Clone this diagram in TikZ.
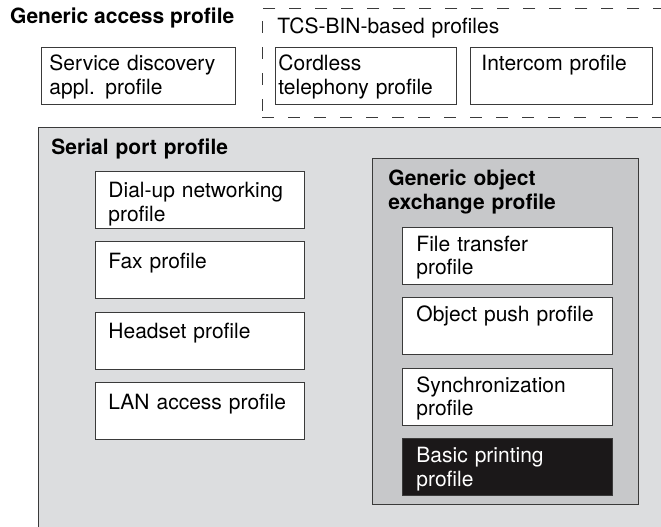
\documentclass[tikz,border=0pt]{standalone}
\usepackage{fontspec}
\setmainfont{TeX Gyre Heros}
\usetikzlibrary{positioning}
\definecolor{outerGray}{HTML}{DCDDDF}
\definecolor{innerGray}{HTML}{C7C8CA}
\definecolor{frameLine}{HTML}{3A3A3A}
\definecolor{inkBlack}{HTML}{1B1819}

\begin{document}
\begin{tikzpicture}[
  x=1pt, y=-1pt,
  node distance=12.5pt,
  every node/.style={font=\fontsize{21}{23.5}\selectfont, align=left, anchor=north west, inner ysep=0pt},
  profbox/.style={draw=frameLine, fill=white, line width=0.9pt},
  leftbox/.style={profbox, inner xsep=13pt, text width=183pt, text height=26.5pt, text depth=30.5pt},
  rightbox/.style={profbox, inner xsep=14pt, text width=182pt, text height=24pt, text depth=33pt},
  topbox/.style={profbox, text height=23.5pt, text depth=33.5pt},
  group/.style={draw=frameLine, line width=0.9pt, font=\fontsize{21}{24}\selectfont\bfseries}
]
\clip (0,0) rectangle (661,527);

% Generic access profile
\node[anchor=base west, inner sep=0pt, font=\fontsize{21}{24}\selectfont\bfseries] (gap) at (10,24) {Generic access profile};
\node[topbox, inner xsep=8pt, text width=178pt] (sdap) at (41,47) {Service discovery\\appl. profile};

% TCS-BIN-based profiles
\node[draw=frameLine, line width=0.9pt, dash pattern=on 12pt off 14pt, inner xsep=15pt, text width=390pt, text height=25pt, text depth=84pt] (tcs) at (262,8) {TCS-BIN-based profiles};
\node[topbox, inner xsep=3pt, text width=175pt] (ctp) at (275,47) {Cordless\\telephony profile};
\node[topbox, inner xsep=11pt, text width=160pt] (icp) at (470,47) {Intercom profile};

% Serial port profile
\node[group, fill=outerGray, inner xsep=13pt, text width=614pt, text height=27pt, text depth=393pt] (spp) at (38,127) {Serial port profile};
\node[leftbox] (dun) at (95,171) {Dial-up networking\\profile};
\node[leftbox, below=of dun] (fax) {Fax profile};
\node[leftbox, below=of fax] (hsp) {Headset profile};
\node[leftbox, below=of hsp] (lan) {LAN access profile};

% Generic object exchange profile
\node[group, fill=innerGray, inner xsep=16pt, text width=234pt, text height=27pt, text depth=319pt] (goep) at (372,158) {Generic object\\exchange profile};
\node[rightbox] (ftp) at (402,227) {File transfer\\profile};
\node[rightbox, below=of ftp] (opp) {Object push profile};
\node[rightbox, below=of opp] (sync) {Synchronization\\profile};
\node[rightbox, below=of sync, fill=inkBlack, text=white] (bpp) {Basic printing\\profile};
\end{tikzpicture}
\end{document}
